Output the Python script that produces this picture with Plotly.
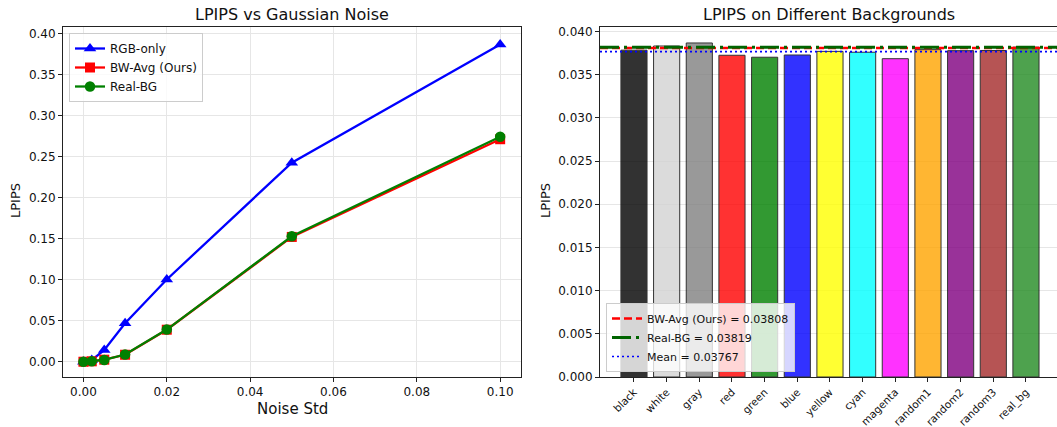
import plotly.graph_objects as go

# ---------------- data ----------------
noise_std = [0.0, 0.002, 0.005, 0.01, 0.02, 0.05, 0.1]
rgb_only = [0.0, 0.002, 0.0143, 0.0468, 0.1002, 0.2425, 0.3865]
bw_avg = [0.0, 0.0005, 0.0025, 0.0085, 0.0390, 0.1520, 0.2710]
real_bg = [0.0, 0.0006, 0.0022, 0.0088, 0.0392, 0.1528, 0.2740]

backgrounds = ["black", "white", "gray", "red", "green", "blue", "yellow",
               "cyan", "magenta", "random1", "random2", "random3", "real_bg"]
bg_lpips = [0.03784, 0.03832, 0.03867, 0.03725, 0.03702, 0.03728, 0.03770,
            0.03760, 0.03685, 0.03790, 0.03778, 0.03780, 0.03819]
bar_colors = ["black", "lightgray", "gray", "red", "green", "blue", "yellow",
              "cyan", "magenta", "orange", "purple", "brown", "forestgreen"]

bw_avg_value = 0.03808
real_bg_value = 0.03819
mean_value = 0.03767

W, H = 1057, 427
FONT = "DejaVu Sans"

def px_x(p):
    return p / W

def px_y(p):
    return 1 - p / H

fig = go.Figure()

# ---------------- left: line chart ----------------
fig.add_trace(go.Scatter(
    x=noise_std, y=rgb_only, name="RGB-only", mode="lines+markers",
    line=dict(color="blue", width=2.3),
    marker=dict(symbol="triangle-up", size=11, color="blue"),
    xaxis="x", yaxis="y", legend="legend"))
fig.add_trace(go.Scatter(
    x=noise_std, y=bw_avg, name="BW-Avg (Ours)", mode="lines+markers",
    line=dict(color="red", width=2.3),
    marker=dict(symbol="square", size=10, color="red"),
    xaxis="x", yaxis="y", legend="legend"))
fig.add_trace(go.Scatter(
    x=noise_std, y=real_bg, name="Real-BG", mode="lines+markers",
    line=dict(color="green", width=2.3),
    marker=dict(symbol="circle", size=10.5, color="green"),
    xaxis="x", yaxis="y", legend="legend"))

# ---------------- right: bar chart ----------------
fig.add_trace(go.Bar(
    x=backgrounds, y=bg_lpips, width=0.8, opacity=0.8,
    marker=dict(color=bar_colors, line=dict(color="black", width=1)),
    showlegend=False, xaxis="x2", yaxis="y2"))

ref_lines = [
    ("BW-Avg (Ours) = %.5f" % bw_avg_value, bw_avg_value, "red", 2.5, "8px,4px"),
    ("Real-BG = %.5f" % real_bg_value, real_bg_value, "darkgreen", 3, "19px,5px,3px,5px"),
    ("Mean = %.5f" % mean_value, mean_value, "blue", 1.6, "2px,3px"),
]
for name, val, col, w, dash in ref_lines:
    fig.add_shape(type="line", xref="x2 domain", yref="y2", x0=0, x1=1,
                  y0=val, y1=val, line=dict(color=col, width=w, dash=dash),
                  showlegend=True, name=name, legend="legend2", layer="above")

axis_common = dict(
    showline=True, linecolor="#222", linewidth=1, ticks="outside", ticklen=4,
    tickcolor="#222", tickfont=dict(family=FONT, size=12, color="#111"),
    zeroline=False, gridcolor="#e6e6e6", gridwidth=1, automargin=False,
)

title_font = dict(family=FONT, size=15, color="#111")

fig.update_layout(
    width=W, height=H, autosize=False,
    margin=dict(l=0, r=0, t=0, b=0, autoexpand=False),
    paper_bgcolor="white", plot_bgcolor="white",
    font=dict(family=FONT, color="#111"),
    xaxis=dict(domain=[px_x(63), px_x(521)], range=[-0.0049, 0.105],
               tickvals=[0, 0.02, 0.04, 0.06, 0.08, 0.10], tickformat=".2f",
               mirror=True, showgrid=True, anchor="y", **axis_common),
    yaxis=dict(domain=[px_y(377), px_y(27)], range=[-0.0186, 0.4077],
               tickvals=[0, 0.05, 0.10, 0.15, 0.20, 0.25, 0.30, 0.35, 0.40],
               tickformat=".2f", mirror=True, showgrid=True, anchor="x",
               **axis_common),
    xaxis2=dict(domain=[px_x(600), 1.0], range=[-1.04, 12.95],
                tickangle=-45, mirror=True, showgrid=False, anchor="y2",
                **{**axis_common, "tickfont": dict(family=FONT, size=10.5, color="#111")}),
    yaxis2=dict(domain=[px_y(377), px_y(27)], range=[0, 0.04052],
                tickvals=[0, 0.005, 0.010, 0.015, 0.020, 0.025, 0.030, 0.035, 0.040],
                tickformat=".3f", mirror=False, showgrid=True, anchor="x2",
                **axis_common),
    legend=dict(x=px_x(69), y=px_y(33), xanchor="left", yanchor="top",
                bgcolor="rgba(255,255,255,0.8)", bordercolor="#cccccc", borderwidth=1,
                font=dict(family=FONT, size=12, color="#111"), itemwidth=30,
                tracegroupgap=0),
    legend2=dict(x=px_x(606), y=px_y(372), xanchor="left", yanchor="bottom",
                 bgcolor="rgba(255,255,255,0.8)", bordercolor="#cccccc", borderwidth=1,
                 font=dict(family=FONT, size=11, color="#111"), itemwidth=30,
                 tracegroupgap=0),
    annotations=[
        dict(text="LPIPS vs Gaussian Noise", x=(px_x(63) + px_x(521)) / 2, y=px_y(14),
             xref="paper", yref="paper", showarrow=False, xanchor="center", yanchor="middle",
             font=dict(family=FONT, size=16, color="#111")),
        dict(text="LPIPS on Different Backgrounds", x=px_x(829), y=px_y(14),
             xref="paper", yref="paper", showarrow=False, xanchor="center", yanchor="middle",
             font=dict(family=FONT, size=16, color="#111")),
        dict(text="Noise Std", x=(px_x(63) + px_x(521)) / 2, y=px_y(409),
             xref="paper", yref="paper", showarrow=False, xanchor="center", yanchor="middle",
             font=title_font),
        dict(text="LPIPS", x=px_x(15), y=px_y(201), textangle=-90,
             xref="paper", yref="paper", showarrow=False, xanchor="center", yanchor="middle",
             font=dict(family=FONT, size=13, color="#111")),
        dict(text="LPIPS", x=px_x(545), y=px_y(201), textangle=-90,
             xref="paper", yref="paper", showarrow=False, xanchor="center", yanchor="middle",
             font=dict(family=FONT, size=13, color="#111")),
    ],
)

fig.write_html(
    "out.html",
    config={"displayModeBar": False},
    post_script="document.body.style.margin='0';document.body.style.padding='0';"
                "document.body.style.overflow='hidden';",
)
